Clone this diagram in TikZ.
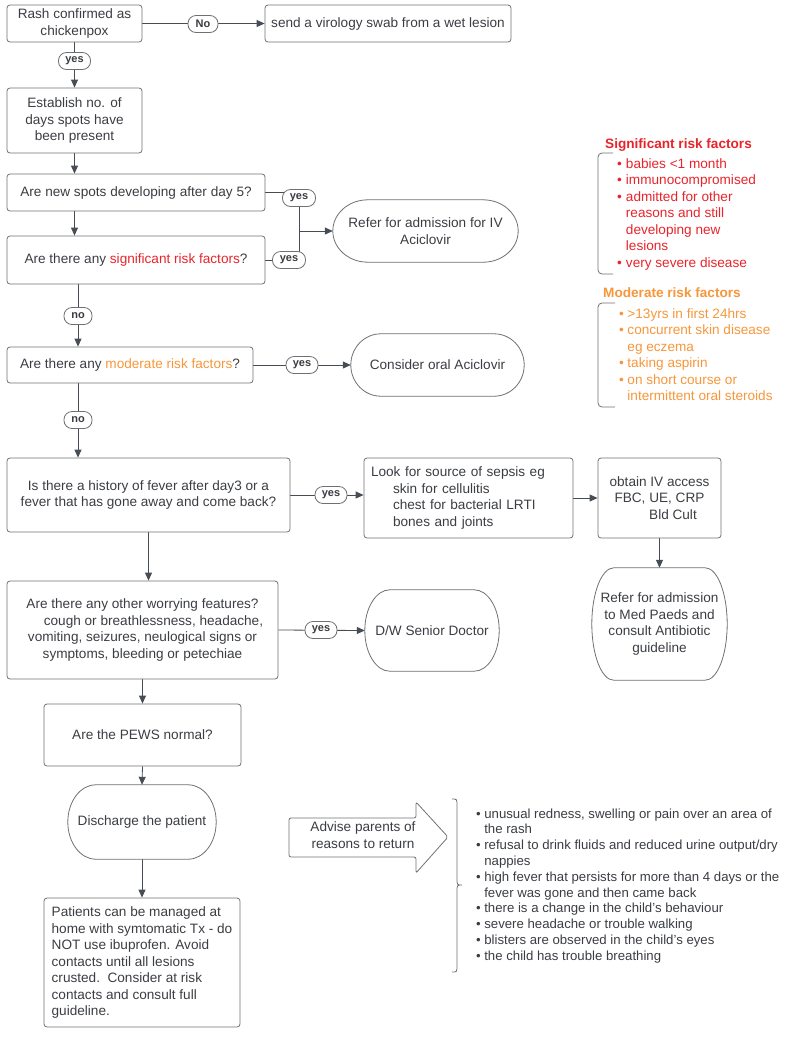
\documentclass[tikz,border=0pt]{standalone}
\usepackage{fontspec}
\setmainfont{Liberation Sans}
\usetikzlibrary{arrows.meta,calc}
\definecolor{txt}{HTML}{3A3D42}
\definecolor{boxc}{HTML}{707070}
\definecolor{linec}{HTML}{474D55}
\definecolor{sigred}{HTML}{E8242B}
\definecolor{modor}{HTML}{F7963A}
\newcommand\fs{\fontsize{13.6}{16.5}\selectfont}
\newcommand\fsl{\fontsize{13.2}{15.8}\selectfont}
\pgfdeclarelayer{bg}
\pgfsetlayers{bg,main}
\newcommand\termdraw[2]{%
  \draw[termline] let \p1=(#1.north west), \p2=(#1.south east), \n1={(\y1-\y2)/2} in
   (\x1+#2,\y1) -- (\x2-#2,\y1) arc[start angle=90,end angle=-90,x radius=#2,y radius=\n1]
   -- (\x1+#2,\y2) arc[start angle=270,end angle=90,x radius=#2,y radius=\n1] -- cycle;}
\begin{document}
\begin{tikzpicture}[x=1pt,y=-1pt,
  box/.style={draw=boxc, line width=0.8pt, rounded corners=3pt, text=txt, font=\fs, align=center, inner sep=0pt},
  termnode/.style={text=txt, font=\fs, align=center, inner sep=0pt},
  termline/.style={draw=boxc, line width=0.8pt},
  pill/.style={draw=boxc, line width=0.8pt, rounded corners=8pt, fill=white, text=txt, font=\bfseries\fontsize{11}{13}\selectfont, inner sep=0pt, minimum height=17pt},
  conn/.style={draw=linec, line width=0.8pt},
  arr/.style={conn, -{Triangle[length=8pt,width=7pt]}},
  risk/.style={anchor=base west, inner sep=0pt, font=\fs, align=left},
  title/.style={anchor=base west, inner sep=0pt, font=\bfseries\fs}
]
\useasboundingbox (0,0) rectangle (802,1053);

% ---------- boxes ----------
\node[box, minimum width=135pt, minimum height=37pt] (rash) at (74.5,23.5) {Rash confirmed as\\chickenpox};
\node[box, minimum width=246pt, minimum height=37pt] (send) at (388,23.5) {send a virology swab from a wet lesion};
\node[box, minimum width=135pt, minimum height=65pt] (est) at (74.5,120.5) {Establish no. of\\days spots have\\been present};
\node[box, minimum width=258pt, minimum height=37pt] (spots) at (136,192.5) {Are new spots developing after day 5?};
\node[box, minimum width=258pt, minimum height=48pt] (sig) at (136,260) {Are there any {\color{sigred}significant risk factors}?};
\node[termnode, minimum width=185pt, minimum height=62pt] (refer) at (425.5,231) {Refer for admission for IV\\Aciclovir};
\node[box, minimum width=246pt, minimum height=36pt] (mod) at (130,365) {Are there any {\color{modor}moderate risk factors}?};
\node[termnode, minimum width=173pt, minimum height=62pt] (consider) at (437.5,365) {Consider oral Aciclovir};
\node[box, minimum width=283pt, minimum height=74pt] (fever) at (148.5,495) {Is there a history of fever after day3 or a\\fever that has gone away and come back?};
\node[box, minimum width=209pt, minimum height=80pt, text width=195pt, align=left] (sepsis) at (468.5,498)
  {Look for source of sepsis eg\\\hspace*{22pt}skin for cellulitis\\\hspace*{22pt}chest for bacterial LRTI\\\hspace*{22pt}bones and joints};
\node[box, minimum width=123pt, minimum height=80pt] (iv) at (659.5,498) {obtain IV access\\FBC, UE, CRP\\\hspace*{27pt}Bld Cult};
\node[termnode, minimum width=135pt, minimum height=112pt] (medp) at (659.5,624) {Refer for admission\\to Med Paeds and\\consult Antibiotic\\guideline};
\node[box, minimum width=271pt, minimum height=98pt] (worry) at (142.5,630)
  {Are there any other worrying features?\\\hspace*{22pt}cough or breathlessness, headache,\\vomiting, seizures, neulogical signs or\\symptoms, bleeding or petechiae};
\node[termnode, minimum width=134pt, minimum height=81pt] (dw) at (432,630.5) {D/W Senior Doctor};
\node[box, minimum width=197pt, minimum height=62pt] (pews) at (142.5,735) {Are the PEWS normal?};
\node[termnode, minimum width=148pt, minimum height=74pt] (disch) at (142,822) {Discharge the patient};
\node[box, minimum width=196pt, minimum height=129pt, align=left] (manage) at (142,962.5)
  {Patients can be managed at\\home with symtomatic Tx - do\\NOT use ibuprofen. Avoid\\contacts until all lesions\\crusted.\ \ Consider at risk\\contacts and consult full\\guideline.};

% terminator outlines
\termdraw{refer}{35pt}
\termdraw{consider}{30pt}
\termdraw{medp}{22pt}
\termdraw{dw}{25pt}
\termdraw{disch}{28pt}

% ---------- labels ----------
\node[pill, minimum width=30pt] (lno0) at (203,24) {No};
\node[pill, minimum width=32pt] (lyes1) at (74.5,61) {yes};
\node[pill, minimum width=33pt] (lyes2) at (299,198) {yes};
\node[pill, minimum width=33pt] (lyes3) at (289,260) {yes};
\node[pill, minimum width=28pt] (lno1) at (78,316) {no};
\node[pill, minimum width=32pt] (lyes4) at (302,365) {yes};
\node[pill, minimum width=28pt] (lno2) at (78,420) {no};
\node[pill, minimum width=32pt] (lyes5) at (331,495) {yes};
\node[pill, minimum width=32pt] (lyes6) at (321,630) {yes};

% ---------- connectors ----------
\coordinate (junc) at (299,231);
\begin{pgfonlayer}{bg}
\draw[arr] (rash.east) -- (send.west);
\draw[arr] (rash.south) -- (est.north);
\draw[arr] (est.south) -- (est.south |- spots.north);
\draw[arr] (est.south |- spots.south) -- (est.south |- sig.north);
\draw[conn] (spots.east) -| (junc);
\draw[conn] (sig.east) -| (junc);
\draw[arr] (junc) -- (refer.west);
\draw[arr] (sig.south -| lno1) -- (mod.north -| lno1);
\draw[arr] (mod.east) -- (consider.west);
\draw[arr] (mod.south -| lno2) -- (fever.north -| lno2);
\draw[arr] (fever.east) -- (fever.east -| sepsis.west);
\draw[arr] (sepsis.east) -- (iv.west);
\draw[arr] (iv.south) -- (medp.north);
\draw[arr] (fever.south) -- (fever.south |- worry.north);
\draw[arr] (worry.east) -- (dw.west);
\draw[arr] (worry.south) -- (pews.north);
\draw[arr] (pews.south) -- (disch.north);
\draw[arr] (disch.south) -- (manage.north);
\end{pgfonlayer}

% ---------- risk factor lists ----------
\node[title, text=sigred] (sigt) at (605,148) {Significant risk factors};
\draw[termline, rounded corners=4pt] (613,153) -- (598,153) -- (598,274) -- (613,274);
\node[risk, text=sigred] (sigl) at (617,168) {\begin{tabular}[t]{@{}l@{\hspace{4pt}}l@{}}
•&babies <1 month\\
•&immunocompromised\\
•&admitted for other\\
&reasons and still\\
&developing new\\
&lesions\\
•&very severe disease
\end{tabular}};

\node[title, text=modor] (modt) at (603,297) {Moderate risk factors};
\draw[termline, rounded corners=4pt] (615,303) -- (598,303) -- (598,407) -- (615,407);
\node[risk, text=modor] (modl) at (619,318) {\begin{tabular}[t]{@{}l@{\hspace{3.5pt}}l@{}}
•&>13yrs in first 24hrs\\
•&concurrent skin disease\\
&eg eczema\\
•&taking aspirin\\
•&on short course or\\
&intermittent oral steroids
\end{tabular}};

% ---------- advise arrow and return list ----------
\draw[termline, rounded corners=2pt] (289,818) -- (416,818) -- (416,802) -- (448,837) -- (416,873) -- (416,857) -- (289,857) -- cycle;
\node[termnode] (advise) at (363,835) {Advise parents of\\reasons to return};
\draw[termline] (452,799) .. controls (457,799) .. (457,806) -- (457,878)
  .. controls (457,885) .. (462,885) .. controls (457,885) .. (457,892) -- (457,965)
  .. controls (457,972) .. (452,972);
\node[risk, font=\fsl, text=txt] (retl) at (476,818) {\begin{tabular}[t]{@{}l@{\hspace{3.5pt}}l@{}}
•&unusual redness, swelling or pain over an area of\\
&the rash\\
•&refusal to drink fluids and reduced urine output/dry\\
&nappies\\
•&high fever that persists for more than 4 days or the\\
&fever was gone and then came back\\
•&there is a change in the child’s behaviour\\
•&severe headache or trouble walking\\
•&blisters are observed in the child’s eyes\\
•&the child has trouble breathing
\end{tabular}};
\end{tikzpicture}
\end{document}
